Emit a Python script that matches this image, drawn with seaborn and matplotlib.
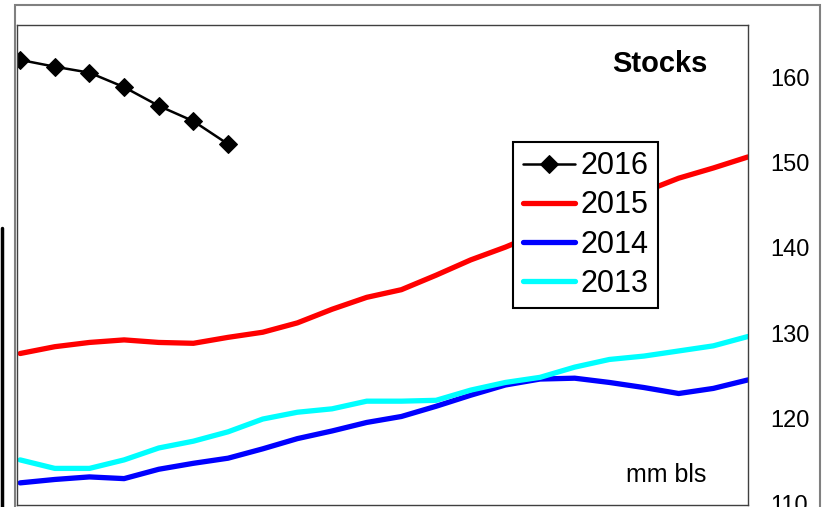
import numpy as np
import pandas as pd
import seaborn as sns
import matplotlib.pyplot as plt
from matplotlib.patches import Rectangle
from matplotlib.lines import Line2D

# weekly stock levels (mm bls)
weeks = list(range(22))
stocks_2016 = [162.1, 161.3, 160.6, 158.9, 156.7, 154.9, 152.2]
stocks_2015 = [127.6, 128.4, 128.9, 129.2, 128.9, 128.8, 129.5, 130.1, 131.2, 132.8, 134.2,
               135.1, 136.8, 138.6, 140.1, 141.8, 143.4, 145.1, 146.6, 148.2, 149.4, 150.7]
stocks_2014 = [112.4, 112.8, 113.1, 112.9, 114.0, 114.7, 115.3, 116.4, 117.6, 118.5, 119.5,
               120.2, 121.4, 122.7, 123.9, 124.6, 124.7, 124.2, 123.6, 122.9, 123.5, 124.5]
stocks_2013 = [115.1, 114.1, 114.1, 115.1, 116.5, 117.3, 118.4, 119.9, 120.7, 121.1, 122.0,
               122.0, 122.1, 123.3, 124.2, 124.8, 126.0, 126.9, 127.3, 127.9, 128.5, 129.6]
y_ticks = [110, 120, 130, 140, 150, 160]


def main():
    sns.set_style("white")
    plt.rcParams['font.family'] = ['Liberation Sans', 'DejaVu Sans']
    plt.rcParams['text.color'] = 'black'
    plt.rcParams['ytick.color'] = 'black'

    fig = plt.figure(figsize=(8.24, 5.07), dpi=100)
    ax = fig.add_axes([17 / 824, 2 / 507, 731 / 824, 480 / 507])

    sns.lineplot(x=weeks[:len(stocks_2016)], y=stocks_2016, ax=ax, color='black', lw=1.8,
                 marker='D', markersize=9, markeredgecolor='black', label='2016')
    sns.lineplot(x=weeks, y=stocks_2015, ax=ax, color='#ff0000', lw=3.8, label='2015')
    sns.lineplot(x=weeks, y=stocks_2014, ax=ax, color='#0000ff', lw=3.8, label='2014')
    sns.lineplot(x=weeks, y=stocks_2013, ax=ax, color='#00ffff', lw=3.8, label='2013')

    ax.set_xlim(-0.09, 21)
    ax.set_ylim(109.8, 166.2)
    ax.set_xticks([])
    ax.yaxis.tick_right()
    ax.set_yticks(y_ticks)
    ax.tick_params(axis='y', length=0, pad=16, labelsize=17, labelcolor='black')
    for s in ax.spines.values():
        s.set_color('#404040')
        s.set_linewidth(1.0)

    ax.text(0.88, 0.919, 'Stocks', transform=ax.transAxes, ha='center', va='center',
            fontsize=21, fontweight='bold', color='black')
    ax.text(0.888, 0.0625, 'mm bls', transform=ax.transAxes, ha='center', va='center',
            fontsize=18, color='black')

    leg = ax.legend(loc='upper left', bbox_to_anchor=(0.679, 0.756), borderaxespad=0,
                    fontsize=22, frameon=True, fancybox=False, framealpha=1,
                    handlelength=1.72, handletextpad=0.18, labelspacing=0.3, borderpad=0.3)
    leg.get_frame().set_edgecolor('black')
    leg.get_frame().set_linewidth(1.5)
    for t in leg.get_texts():
        t.set_color('black')

    # outer chart frame and edge of the neighbouring chart
    fig.patches.append(Rectangle((15 / 824, -0.1), 805 / 824, 502 / 507 + 0.1,
                                 transform=fig.transFigure, fill=False,
                                 edgecolor='#808080', lw=1.5))
    fig.lines.append(Line2D([0.002, 0.002], [0, 279 / 507], transform=fig.transFigure,
                            color='black', lw=2.5))

    fig.savefig('out.png', dpi=100)


if __name__ == "__main__":
    main()
